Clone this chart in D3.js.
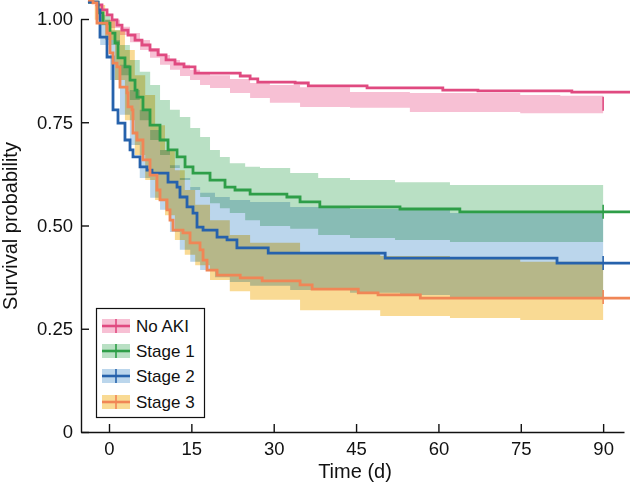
<!DOCTYPE html>
<html><head><meta charset="utf-8">
<script src="https://cdn.jsdelivr.net/npm/d3@7"></script>
<style>
body{margin:0;background:#fff;}
text{font-family:Arial,"Liberation Sans",Helvetica,sans-serif;fill:#111;}
</style></head>
<body><svg id="chart" width="630" height="484"></svg>
<script>
// ---- data (time in days, survival probability) ----
const groups = ["No AKI", "Stage 1", "Stage 2", "Stage 3"];
const lineColors = ["#E04A80", "#2E9E48", "#2662AC", "#F08656"];
const bandColors = ["#F7C0D4", "#B9E0C4", "#BBD6EC", "#F9DA94"];

// Kaplan-Meier step curves
const noAkiTime = [-3.83,-2.19,-1.28,-0.36,0.55,1.46,2.37,3.46,4.74,6.01,7.47,8.93,10.39,12.02,13.66,15.67,23.9,25.7,27.1,33.9,36.3,47.0,60.8,67.2,84.3,94.9];
const noAkiSurv = [1.041,1.034,1.022,1.010,0.998,0.985,0.973,0.961,0.949,0.937,0.925,0.913,0.901,0.891,0.884,0.869,0.862,0.855,0.847,0.845,0.838,0.833,0.828,0.826,0.823,0.823];

const stage1Time = [-3.83,-2.0,-1.09,0.18,1.09,1.64,2.91,3.83,4.74,5.1,6.19,7.47,9.29,10.75,12.39,13.85,15.3,18.4,21.13,22.95,25.7,32.4,34.8,38.4,53.0,63.9,94.9];
const stage1Surv = [1.041,1.015,0.990,0.966,0.942,0.906,0.884,0.852,0.828,0.811,0.780,0.743,0.707,0.683,0.666,0.642,0.627,0.610,0.593,0.586,0.576,0.569,0.557,0.545,0.540,0.533,0.533];

const stage2Time = [-3.83,-2.0,-1.64,-0.36,0.73,1.64,2.91,3.83,4.37,5.65,6.92,7.83,10.75,12.39,12.93,14.21,15.3,16.03,17.13,19.68,21.5,23.3,29.0,50.3,81.6,94.9];
const stage2Surv = [1.041,1.022,0.956,0.908,0.780,0.748,0.707,0.683,0.666,0.642,0.634,0.627,0.605,0.593,0.569,0.545,0.530,0.496,0.489,0.472,0.465,0.446,0.433,0.421,0.409,0.409];

const stage3Time = [-3.83,-2.91,-2.19,-0.36,0.18,0.73,1.46,2.0,3.28,3.46,4.19,4.37,5.1,6.19,7.47,8.74,9.29,10.57,11.11,11.66,13.48,14.76,16.58,17.13,17.85,19.68,23.9,27.9,34.8,37.0,45.4,49.0,56.7,94.9];
const stage3Surv = [1.046,1.039,0.990,0.966,0.918,0.893,0.884,0.835,0.821,0.787,0.780,0.724,0.707,0.659,0.622,0.586,0.562,0.538,0.513,0.489,0.482,0.458,0.441,0.416,0.392,0.380,0.373,0.366,0.356,0.346,0.337,0.332,0.324,0.324];

// 95% confidence bands (step), ending at day 90
const noAkiBandTime  = [0.18,2.0,3.83,5.65,7.47,9.29,11.11,12.93,14.76,16.58,18.4,22.04,25.7,29.3,34.8,43.9,54.8,74.9,82.2,90];
const noAkiBandUpper = [0.998,0.981,0.966,0.949,0.930,0.913,0.901,0.889,0.877,0.869,0.864,0.855,0.845,0.840,0.835,0.823,0.821,0.816,0.814,0.814];
const noAkiBandLower = [0.978,0.961,0.944,0.925,0.906,0.889,0.877,0.862,0.852,0.840,0.833,0.821,0.809,0.797,0.787,0.785,0.775,0.772,0.772,0.772];

const stage1BandTime  = [-1.6,0.2,2.0,3.8,5.6,7.5,9.3,11.1,12.9,14.8,16.6,18.4,20.2,22.0,24.8,27.5,33.0,38.1,43.9,52.1,62.1,90];
const stage1BandUpper = [1.010,0.973,0.937,0.901,0.872,0.840,0.804,0.780,0.763,0.736,0.714,0.683,0.666,0.651,0.642,0.639,0.627,0.615,0.610,0.605,0.598,0.598];
const stage1BandLower = [0.985,0.937,0.864,0.804,0.755,0.707,0.671,0.639,0.610,0.586,0.569,0.554,0.542,0.530,0.513,0.499,0.492,0.477,0.470,0.465,0.460,0.460];

const stage2BandTime  = [-1.6,0.2,2.0,3.8,5.6,7.5,9.3,11.1,12.9,14.8,16.6,19.3,22.0,25.7,33.0,43.9,53.0,62.1,90];
const stage2BandUpper = [0.998,0.949,0.889,0.828,0.780,0.731,0.683,0.646,0.615,0.593,0.579,0.569,0.562,0.557,0.545,0.540,0.538,0.530,0.530];
const stage2BandLower = [0.937,0.852,0.768,0.695,0.615,0.567,0.538,0.484,0.441,0.412,0.392,0.375,0.363,0.354,0.344,0.337,0.332,0.327,0.327];

const stage3BandTime  = [-2.6,-0.7,1.1,2.9,4.7,6.6,8.4,10.2,12.0,13.8,15.7,18.4,22.0,25.7,34.8,49.4,62.1,74.9,90];
const stage3BandUpper = [1.034,0.998,0.973,0.925,0.864,0.816,0.743,0.683,0.634,0.586,0.550,0.513,0.477,0.458,0.433,0.426,0.421,0.412,0.412];
const stage3BandLower = [0.998,0.949,0.852,0.755,0.671,0.610,0.562,0.525,0.465,0.429,0.404,0.368,0.341,0.320,0.295,0.281,0.276,0.271,0.271];

// censor marks at end of follow-up
const censorTime = 90;
const censorSurv = [0.795, 0.533, 0.409, 0.327];

const xTicks = [0, 15, 30, 45, 60, 75, 90];
const yTicks = [0, 0.25, 0.50, 0.75, 1.00];
const yTickLabels = ["0", "0.25", "0.50", "0.75", "1.00"];

// ---- build ----
const curves = [
  {t: noAkiTime, s: noAkiSurv}, {t: stage1Time, s: stage1Surv},
  {t: stage2Time, s: stage2Surv}, {t: stage3Time, s: stage3Surv}];
const bands = [
  {t: noAkiBandTime, u: noAkiBandUpper, l: noAkiBandLower},
  {t: stage1BandTime, u: stage1BandUpper, l: stage1BandLower},
  {t: stage2BandTime, u: stage2BandUpper, l: stage2BandLower},
  {t: stage3BandTime, u: stage3BandUpper, l: stage3BandLower}];

const svg = d3.select("#chart");
const x = d3.scaleLinear().domain([-5.1, 93.8]).range([81, 624]);
const y = d3.scaleLinear().domain([0, 1]).range([432, 19]);

const bandG = svg.append("g").style("isolation", "isolate");
bands.forEach((b, i) => {
  const pts = b.t.map((t, k) => ({t, u: b.u[k], l: b.l[k]}));
  const area = d3.area().curve(d3.curveStepAfter)
    .x(d => x(d.t)).y0(d => y(d.l)).y1(d => y(d.u));
  bandG.append("path").datum(pts).attr("d", area)
    .attr("fill", bandColors[i]).style("mix-blend-mode", "multiply");
});

const lineG = svg.append("g");
curves.forEach((c, i) => {
  const pts = c.t.map((t, k) => ({t, s: c.s[k]}));
  const line = d3.line().curve(d3.curveStepAfter).x(d => x(d.t)).y(d => y(d.s));
  lineG.append("path").datum(pts).attr("d", line)
    .attr("fill", "none").attr("stroke", lineColors[i]).attr("stroke-width", 2.8);
  lineG.append("line")
    .attr("x1", x(censorTime)).attr("x2", x(censorTime))
    .attr("y1", y(censorSurv[i]) - 7).attr("y2", y(censorSurv[i]) + 7)
    .attr("stroke", lineColors[i]).attr("stroke-width", 1.6);
});

// axes
const yAxis = d3.axisLeft(y).tickValues(yTicks)
  .tickFormat((d, i) => yTickLabels[i]).tickSizeInner(-8).tickSizeOuter(0).tickPadding(8);
const gy = svg.append("g").attr("transform", `translate(${x(-5.1)},0)`).call(yAxis);
const xAxis = d3.axisBottom(x).tickValues(xTicks).tickSizeInner(-8).tickSizeOuter(0).tickPadding(10);
const gx = svg.append("g").attr("transform", `translate(0,${y(0)})`).call(xAxis);
[gx, gy].forEach(g => {
  g.select(".domain").attr("stroke", "#111").attr("stroke-width", 1.4);
  g.selectAll(".tick line").attr("stroke", "#111").attr("stroke-width", 1.4);
  g.selectAll(".tick text").attr("font-size", 18.5).attr("fill", "#111")
    .style("font-family", "Arial, 'Liberation Sans', sans-serif");
});

svg.append("text").attr("x", 355).attr("y", 478).attr("text-anchor", "middle")
  .attr("font-size", 20).text("Time (d)");
svg.append("text").attr("transform", "translate(17,226) rotate(-90)")
  .attr("text-anchor", "middle").attr("font-size", 20).text("Survival probability");

// legend
const lg = svg.append("g");
lg.append("rect").attr("x", 96.5).attr("y", 308.5).attr("width", 108).attr("height", 109)
  .attr("fill", "#fff").attr("stroke", "#111").attr("stroke-width", 1.2);
const rowY = [326, 351, 376, 402];
groups.forEach((g, i) => {
  lg.append("rect").attr("x", 102).attr("y", rowY[i] - 7).attr("width", 28).attr("height", 14)
    .attr("fill", bandColors[i]);
  lg.append("line").attr("x1", 102).attr("x2", 130).attr("y1", rowY[i]).attr("y2", rowY[i])
    .attr("stroke", lineColors[i]).attr("stroke-width", 2.6);
  lg.append("line").attr("x1", 116).attr("x2", 116).attr("y1", rowY[i] - 7).attr("y2", rowY[i] + 7)
    .attr("stroke", lineColors[i]).attr("stroke-width", 1.6);
  lg.append("text").attr("x", 136).attr("y", rowY[i] + 6).attr("font-size", 17).text(g);
});
</script></body></html>
